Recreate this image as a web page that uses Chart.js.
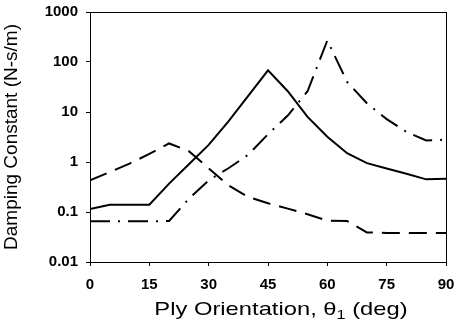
<!DOCTYPE html>
<html>
<head>
<meta charset="utf-8">
<script src="https://cdn.jsdelivr.net/npm/chart.js@4"></script>
<style>
  html, body { margin: 0; padding: 0; background: #fff; }
  #wrap { width: 457px; height: 330px; }
</style>
</head>
<body>
<div id="wrap"><canvas id="c"></canvas></div>
<script>
// ply angle (deg) and damping constant (N-s/m)
const angles = [0, 5, 10, 15, 20, 25, 30, 35, 40, 45, 50, 55, 60, 65, 70, 75, 80, 85, 90];
const solidVals   = [0.115, 0.14, 0.14, 0.14, 0.37, 0.9, 2.2, 6.5, 21, 68, 26, 8, 3.2, 1.5, 0.95, 0.74, 0.58, 0.45, 0.46];
const dashedVals  = [0.43, 0.63, 0.93, 1.45, 2.35, 1.65, 0.75, 0.34, 0.2, 0.15, 0.117, 0.09, 0.067, 0.066, 0.039, 0.038, 0.038, 0.038, 0.038];
const dashDotVals = [0.065, 0.065, 0.065, 0.065, 0.066, 0.185, 0.43, 0.75, 1.4, 3.6, 8.5, 26, 270, 40, 15, 7.2, 4, 2.7, 2.8];
const xTicks = [0, 15, 30, 45, 60, 75, 90];
const yTicks = [0.01, 0.1, 1, 10, 100, 1000];

const pts = vals => angles.map((a, i) => ({ x: a, y: vals[i] }));
const tickFont = { family: 'Arial, "Liberation Sans"', size: 15, weight: 'bold' };

function series(vals, dash) {
  return {
    data: pts(vals), borderColor: '#000', borderWidth: 2, borderDash: dash,
    pointRadius: 0, tension: 0, fill: false
  };
}

// frame round the plot + x title with a real subscript (source text is a bit wide)
const framePlugin = {
  id: 'frame',
  afterDraw(chart) {
    const { ctx, chartArea: a } = chart;
    ctx.save();
    ctx.strokeStyle = '#000';
    ctx.lineWidth = 1;
    ctx.strokeRect(a.left + 0.5, a.top + 0.5, a.right - a.left, a.bottom - a.top);

    const main = 'Ply Orientation, θ', sub = '1', rest = ' (deg)';
    const big = '19px Arial, "Liberation Sans"', small = '13px Arial, "Liberation Sans"';
    const sx = 1.25;
    ctx.fillStyle = '#000';
    ctx.textBaseline = 'alphabetic';
    ctx.font = big;
    const w1 = ctx.measureText(main).width, w3 = ctx.measureText(rest).width;
    ctx.font = small;
    const w2 = ctx.measureText(sub).width;
    ctx.translate(281 - sx * (w1 + w2 + w3) / 2, 315);
    ctx.scale(sx, 1);
    let x = 0;
    ctx.font = big;
    ctx.fillText(main, x, 0); x += w1;
    ctx.font = small;
    ctx.fillText(sub, x, 4); x += w2;
    ctx.font = big;
    ctx.fillText(rest, x, 0);
    ctx.restore();
  }
};

new Chart(document.getElementById('c'), {
  type: 'line',
  data: {
    datasets: [
      series(solidVals, []),
      series(dashedVals, [18, 9]),
      series(dashDotVals, [20, 8, 2, 8])
    ]
  },
  options: {
    responsive: true, maintainAspectRatio: false, animation: false,
    layout: { padding: { top: 12, right: 11, left: 0, bottom: 0 } },
    plugins: { legend: { display: false }, tooltip: { enabled: false } },
    scales: {
      x: {
        type: 'linear', min: 0, max: 90,
        afterBuildTicks: s => { s.ticks = xTicks.map(v => ({ value: v })); },
        afterFit: s => { s.height = 68; s.paddingLeft = 0; s.paddingRight = 0; },
        ticks: { color: '#000', font: tickFont, padding: 10, maxRotation: 0 },
        grid: { drawOnChartArea: false, drawTicks: true, tickLength: 4, color: '#000' },
        border: { color: '#000', width: 1 }
      },
      y: {
        type: 'logarithmic', min: 0.01, max: 1000,
        afterBuildTicks: s => { s.ticks = yTicks.map(v => ({ value: v })); },
        afterFit: s => { s.width = 90; s.paddingTop = 0; s.paddingBottom = 0; },
        ticks: { color: '#000', font: tickFont, padding: 8, callback: v => String(v) },
        grid: { drawOnChartArea: false, drawTicks: true, tickLength: 4, color: '#000' },
        border: { color: '#000', width: 1 },
        title: {
          display: true, text: 'Damping Constant (N-s/m)', color: '#000',
          font: { family: 'Arial, "Liberation Sans"', size: 19 }, padding: { top: 0, bottom: 0 }
        }
      }
    }
  },
  plugins: [framePlugin]
});
</script>
</body>
</html>
